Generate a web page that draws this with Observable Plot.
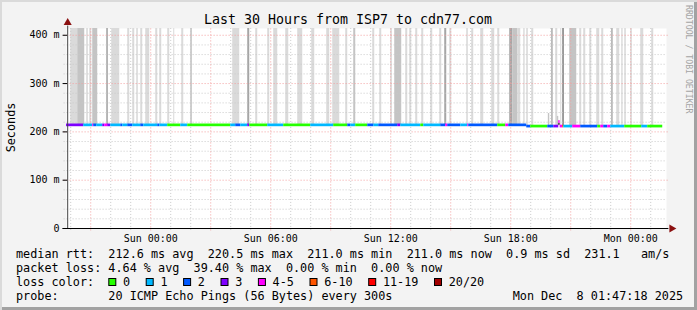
<!DOCTYPE html>
<html><head><meta charset="utf-8">
<script src="https://cdn.jsdelivr.net/npm/d3@7"></script>
<script src="https://cdn.jsdelivr.net/npm/@observablehq/plot@0.6"></script>
<style>
body{margin:0;background:#fff}
#wrap{position:relative;width:697px;height:310px;background:#f3f3f3;overflow:hidden;
  box-shadow: inset 2px 2px 0 #dadada, inset -3px -3px 0 #a2a2a2;}
#wrap svg{position:absolute;left:0;top:0}
</style></head><body><div id="wrap"></div>
<script>
// ---------- data ----------
const title = "Last 30 Hours from ISP7 to cdn77.com";
const yLabel = "Seconds";
const credit = "RRDTOOL / TOBI OETIKER";
const endLabel = "Mon Dec  8 01:47:18 2025";
// hours relative to Sun 2025-12-07 00:00
const startHour = -4 - 12.7 / 60;   // Sat 19:47:18
const endHour = 25 + 47.3 / 60;     // Mon 01:47:18
const yMax = 414;                   // m
const yTicks = [0, 100, 200, 300, 400];
const yMinor = [20, 40, 60, 80, 120, 140, 160, 180, 220, 240, 260, 280, 320, 340, 360, 380];
const xMajorHours = [-3, 0, 3, 6, 9, 12, 15, 18, 21, 24];
const xMinorHours = [-4, -2, -1, 1, 2, 4, 5, 7, 8, 10, 11, 13, 14, 16, 17, 19, 20, 22, 23, 25];
const xLabelHours = [0, 6, 12, 18, 24];

const lossClasses = ["0", "1", "2", "3", "4-5", "6-10", "11-19", "20/20"];
const lossColors = ["#26ff00", "#00b8ff", "#0059ff", "#7e00ff", "#ff00ff", "#ff5500", "#ff0000", "#a10000"];

// median rtt: [fromHour, toHour, lossClass, median ms]
const medianSegments = [
[-4.21,-3.35,3,213.5],[-3.35,-2.90,1,213.5],[-2.90,-2.85,4,213.5],[-2.85,-2.70,2,213.5],
[-2.70,-2.40,1,213.5],[-2.40,-2.30,3,213.5],[-2.30,-2.15,4,213.5],[-2.15,-2.00,3,213.5],
[-2.00,-1.50,1,213.5],[-1.50,-1.40,2,213.5],[-1.40,-1.15,1,213.5],[-1.15,-0.90,2,213.5],
[-0.90,-0.50,1,213.5],[-0.50,-0.35,2,213.5],[-0.35,0.35,1,213.5],[0.35,0.45,2,213.5],
[0.45,0.85,1,213.5],[0.85,1.50,0,213.5],[1.50,1.85,1,213.5],[1.85,4.00,0,213.5],
[4.00,4.25,1,213.5],[4.25,4.50,2,213.5],[4.50,4.85,1,213.5],[4.85,4.95,3,213.5],
[4.95,5.85,0,213.5],[5.85,6.65,1,213.5],[6.65,8.00,0,213.5],[8.00,9.15,1,213.5],
[9.15,9.85,0,213.5],[9.85,10.00,2,213.5],[10.00,10.25,1,213.5],[10.25,10.85,0,213.5],
[10.85,11.15,2,213.5],[11.15,11.40,1,213.5],[11.40,12.35,2,213.5],[12.35,12.50,3,213.5],
[12.50,13.50,1,213.5],[13.50,13.65,0,213.5],[13.65,14.50,1,213.5],[14.50,14.75,2,213.5],
[14.75,14.85,4,213.5],[14.85,15.50,2,213.5],[15.50,15.85,1,213.5],[15.85,15.90,4,213.5],
[15.90,17.35,2,213.5],[17.35,17.75,0,213.5],[17.75,17.90,4,213.5],[17.90,18.80,2,213.5],
[18.80,19.00,2,211],[19.00,19.85,0,211],[19.85,20.15,2,211],[20.15,20.40,3,211],
[20.40,20.47,4,220.5],[20.47,20.60,4,211],[20.60,20.65,5,211],[20.65,21.10,1,211],
[21.10,21.50,4,211],[21.50,22.35,2,211],[22.35,22.50,0,211],[22.50,22.65,4,211],
[22.65,22.85,2,211],[22.85,23.00,4,211],[23.00,23.70,1,211],[23.70,24.55,0,211],
[24.55,24.85,1,211],[24.85,25.60,0,211]
];

// smoke (ping spread going off the top): [fromHour, toHour, density]
const smokeBands = [
[-4.00,-3.65,"l"],[-3.65,-3.30,"m"],[-3.20,-3.12,"l"],[-3.05,-2.95,"l"],[-2.90,-2.65,"m"],
[-2.20,-2.12,"d"],[-1.95,-1.55,"l"],[-1.15,-1.05,"l"],[-0.90,-0.80,"l"],[-0.70,-0.62,"l"],
[-0.50,-0.40,"l"],[-0.25,-0.05,"l"],[0.25,0.35,"l"],[0.45,0.55,"l"],[0.85,0.95,"l"],
[1.15,1.20,"l"],[1.55,1.65,"l"],[2.00,2.08,"m"],[4.10,4.45,"l"],[4.85,4.95,"d"],
[5.25,5.35,"l"],[5.85,5.95,"l"],[6.15,6.35,"l"],[6.75,6.90,"l"],[7.35,7.60,"l"],
[8.05,8.20,"l"],[8.80,8.95,"l"],[9.10,9.45,"l"],[9.75,9.85,"l"],[10.15,10.25,"m"],
[11.10,11.20,"l"],[11.45,11.55,"l"],[12.00,12.08,"l"],[12.20,12.55,"m"],[12.75,12.85,"l"],
[12.95,13.05,"l"],[13.25,13.35,"l"],[13.55,13.65,"l"],[14.00,14.10,"l"],[14.45,14.55,"l"],
[14.70,14.80,"d"],[14.95,15.05,"l"],[15.80,15.88,"l"],[16.05,16.15,"l"],[16.50,16.65,"l"],
[17.05,17.20,"l"],[17.35,17.45,"l"],[17.95,18.10,"d"],[18.10,18.35,"m"],[18.35,18.50,"l"],
[18.65,18.72,"l"],[18.80,18.88,"l"],[19.05,19.15,"l"],[20.05,20.12,"d"],[20.25,20.35,"l"],
[20.50,20.55,"l"],[20.60,20.68,"k"],[20.95,21.30,"m"],[21.45,21.55,"l"],[21.65,21.75,"l"],
[21.95,22.05,"l"],[22.30,22.45,"l"],[22.55,22.65,"l"],[23.05,23.12,"d"],[23.30,23.45,"l"],
[23.55,23.62,"l"],[23.70,23.78,"l"],[24.00,24.08,"l"],[24.50,24.65,"l"],[25.05,25.15,"l"]
];
// short smoke: [fromHour, toHour, top ms, density]
const smokeShort = [[19.88,19.95,238,"m"],[20.33,20.40,232,"m"],[20.40,20.47,218,"x"]];

const statLines = [
  "median rtt:  212.6 ms avg  220.5 ms max  211.0 ms min  211.0 ms now  0.9 ms sd  231.1   am/s",
  "packet loss: 4.64 % avg  39.40 % max  0.00 % min  0.00 % now"
];
const lossLabel = "loss color:";
const probeLine = "probe:       20 ICMP Echo Pings (56 Bytes) every 300s";

// ---------- helpers ----------
const FONT = "DejaVu Sans Mono";
const sun0 = Date.UTC(2025, 11, 7, 0, 0, 0);
const T = h => new Date(sun0 + h * 3600e3);
const shade = {l: "#dadada", m: "#c4c4c4", d: "#a6a6a6", k: "#858585", x: "#2a2a2a"};
const medianAt = h => { const s = medianSegments.find(s => h >= s[0] && h < s[1]); return s ? Math.min(s[3], 213.5) : 213.5; };
const MAJ = "#f3a0a0", MIN = "#c9c9c9";

const chart = Plot.plot({
  width: 697, height: 245,
  marginLeft: 66, marginRight: 31, marginTop: 28, marginBottom: 17,
  style: {background: "transparent", fontFamily: FONT, fontSize: "10px", overflow: "visible", color: "#000"},
  x: {type: "utc", domain: [T(startHour), T(endHour)], ticks: xLabelHours.map(T),
      tickFormat: d3.utcFormat("%a %H:%M"), tickSize: 0, tickPadding: 6, label: null},
  y: {domain: [0, yMax], ticks: yTicks, tickFormat: d => d === 0 ? "0" : d + " m",
      tickSize: 0, tickPadding: 7, label: null},
  marks: [
    Plot.frame({fill: "white", stroke: null}),
    Plot.rect(smokeBands, {x1: d => T(d[0]), x2: d => T(d[1]), y1: d => medianAt(d[0]), y2: yMax, fill: d => shade[d[2]]}),
    Plot.rect(smokeShort, {x1: d => T(d[0]), x2: d => T(d[1]), y1: d => medianAt(d[0]), y2: d => d[2], fill: d => shade[d[3]]}),
    // grid
    Plot.ruleY(yMinor, {x1: () => T(startHour - 0.12), x2: () => T(endHour), stroke: MIN, strokeDasharray: "1,2"}),
    Plot.ruleX(xMinorHours.map(T), {y1: -4, y2: yMax, stroke: MIN, strokeDasharray: "1,2"}),
    Plot.ruleX(xMajorHours.map(T), {y1: -5, y2: yMax, stroke: MAJ, strokeDasharray: "1,2"}),
    Plot.ruleY(yTicks.filter(d => d > 0), {x1: () => T(startHour - 0.12), x2: () => T(endHour + 0.1), stroke: MAJ, strokeDasharray: "1,2"}),
    // median line
    Plot.rect(medianSegments, {x1: d => T(d[0]), x2: d => T(d[1]), y1: d => d[3] - 2.8, y2: d => d[3] + 2.8, fill: d => lossColors[d[2]]}),
    // axes
    Plot.ruleY(yTicks, {x1: () => T(startHour - 0.17), x2: () => T(startHour + 0.06), stroke: "#000"}),
    Plot.ruleY([0], {x1: () => T(startHour - 0.17), x2: () => T(endHour + 0.12), stroke: "#000"}),
    Plot.ruleX([0], {x: () => T(startHour + 0.06), y1: 0, y2: yMax + 5, stroke: "#444"}),
    Plot.dot([0], {x: () => T(endHour + 0.26), y: 0, symbol: "triangle", r: 3, rotate: 90, fill: "#8b1010", stroke: null}),
    Plot.dot([0], {x: () => T(startHour + 0.06), y: yMax + 12, symbol: "triangle", r: 3, fill: "#8b1010", stroke: null})
  ]
});
const wrap = document.getElementById("wrap");
wrap.appendChild(chart);

// ---------- text overlay ----------
const svg = d3.select(wrap).append("svg").attr("width", 697).attr("height", 310)
  .style("font-family", FONT).style("overflow", "visible");
svg.append("text").attr("x", 348).attr("y", 24).attr("text-anchor", "middle")
  .attr("font-size", 13.3).text(title);
svg.append("text").attr("transform", "translate(15,127.5) rotate(-90)").attr("text-anchor", "middle")
  .attr("font-size", 11.8).text(yLabel);
svg.append("text").attr("transform", "translate(685.5,5) rotate(90)").attr("text-anchor", "start")
  .attr("font-size", 8.2).attr("fill", "#a4a4a4").text(credit);

const CW = 7.1, X0 = 16;
statLines.forEach((s, i) => svg.append("text").attr("x", X0).attr("y", 258 + i * 14)
  .attr("font-size", 11.8).style("white-space", "pre").text(s));
svg.append("text").attr("x", X0).attr("y", 286).attr("font-size", 11.8).text(lossLabel);
let bx = 108.3;
lossClasses.forEach((c, i) => {
  svg.append("rect").attr("x", bx + 0.5).attr("y", 278.5).attr("width", 7).attr("height", 7)
    .attr("fill", lossColors[i]).attr("stroke", "#000").attr("stroke-width", 1);
  svg.append("text").attr("x", bx + 14.7).attr("y", 286).attr("font-size", 11.8).text(c);
  bx += 30.3 + c.length * CW;
});
svg.append("text").attr("x", X0).attr("y", 300).attr("font-size", 11.8).style("white-space", "pre").text(probeLine);
svg.append("text").attr("x", 512.7).attr("y", 300).attr("font-size", 11.8).style("white-space", "pre").text(endLabel);
</script></body></html>
